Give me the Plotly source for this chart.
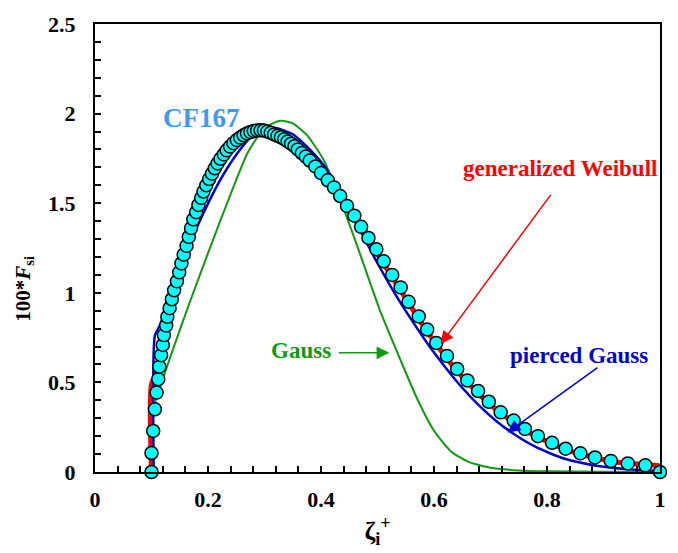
import plotly.graph_objects as go

# ---- data ----
cf_x = [0.100, 0.100, 0.103, 0.106, 0.109, 0.112, 0.114, 0.117, 0.120, 0.122, 0.126, 0.128, 0.132,
        0.136, 0.140, 0.145, 0.149, 0.153, 0.157, 0.162, 0.166, 0.170, 0.174, 0.179, 0.183, 0.188,
        0.192, 0.197, 0.202, 0.207, 0.212, 0.217, 0.222, 0.228, 0.233, 0.239, 0.245, 0.251, 0.257,
        0.263, 0.269, 0.275, 0.281, 0.287, 0.293, 0.299, 0.305, 0.311, 0.317, 0.323, 0.329, 0.335,
        0.341, 0.347, 0.353, 0.359, 0.366, 0.373, 0.380, 0.390, 0.400, 0.412, 0.423, 0.434, 0.446,
        0.459, 0.471, 0.484, 0.498, 0.511, 0.526, 0.541, 0.555, 0.573, 0.588, 0.604, 0.623, 0.641,
        0.659, 0.678, 0.697, 0.718, 0.741, 0.761, 0.784, 0.809, 0.833, 0.859, 0.885, 0.913, 0.943,
        0.974, 1.000]
cf_y = [0.000, 0.106, 0.229, 0.350, 0.443, 0.518, 0.588, 0.652, 0.709, 0.764, 0.817, 0.866, 0.914,
        0.964, 1.014, 1.064, 1.114, 1.164, 1.213, 1.262, 1.312, 1.361, 1.410, 1.450, 1.490, 1.530,
        1.565, 1.600, 1.635, 1.665, 1.695, 1.722, 1.748, 1.772, 1.795, 1.816, 1.835, 1.852, 1.866,
        1.879, 1.889, 1.897, 1.903, 1.906, 1.907, 1.905, 1.900, 1.893, 1.884, 1.876, 1.868, 1.857,
        1.845, 1.832, 1.818, 1.800, 1.780, 1.760, 1.738, 1.705, 1.668, 1.628, 1.588, 1.540, 1.485,
        1.430, 1.368, 1.306, 1.243, 1.176, 1.100, 1.030, 0.950, 0.868, 0.795, 0.720, 0.648, 0.575,
        0.511, 0.452, 0.392, 0.333, 0.287, 0.240, 0.200, 0.163, 0.130, 0.104, 0.081, 0.062, 0.048,
        0.037, 0.000]

weibull_x = [0.100, 0.100, 0.114, 0.122, 0.132, 0.153, 0.174, 0.197, 0.222, 0.251, 0.281, 0.311,
             0.341, 0.380, 0.423, 0.471, 0.526, 0.588, 0.641, 0.697, 0.761, 0.833, 0.913, 1.000]
weibull_y = [0.000, 0.490, 0.588, 0.764, 0.914, 1.164, 1.405, 1.595, 1.745, 1.850, 1.902, 1.892,
             1.843, 1.734, 1.580, 1.358, 1.088, 0.783, 0.563, 0.383, 0.233, 0.125, 0.060, 0.035]

gauss_x = [0.102, 0.133, 0.168, 0.207, 0.240, 0.270, 0.300, 0.328, 0.350, 0.375, 0.405, 0.434,
           0.464, 0.505, 0.540, 0.570, 0.600, 0.630, 0.660, 0.700, 0.750, 0.800, 0.900, 1.000]
gauss_y = [0.350, 0.640, 0.950, 1.280, 1.550, 1.780, 1.920, 1.960, 1.945, 1.880, 1.740, 1.520,
           1.262, 0.896, 0.630, 0.410, 0.230, 0.115, 0.058, 0.024, 0.009, 0.004, 0.001, 0.000]

pierced_x = [0.104, 0.106, 0.115, 0.130, 0.150, 0.170, 0.192, 0.220, 0.250, 0.280, 0.315, 0.350,
             0.380, 0.410, 0.440, 0.470, 0.500, 0.530, 0.560, 0.590, 0.620, 0.650, 0.680, 0.710,
             0.740, 0.780, 0.830, 0.890, 0.950, 1.000]
pierced_y = [0.000, 0.760, 0.820, 0.950, 1.130, 1.290, 1.445, 1.620, 1.770, 1.880, 1.922, 1.885,
             1.800, 1.690, 1.525, 1.345, 1.165, 1.000, 0.850, 0.710, 0.585, 0.470, 0.370, 0.285,
             0.215, 0.140, 0.075, 0.034, 0.014, 0.005]

x_ticks = [0, 0.2, 0.4, 0.6, 0.8, 1]
x_ticklabels = ["0", "0.2", "0.4", "0.6", "0.8", "1"]
y_ticks = [0, 0.5, 1, 1.5, 2, 2.5]
y_ticklabels = ["0", "0.5", "1", "1.5", "2", "2.5"]

FONT = "Liberation Serif"
RED = "#FF0000"
BLUE = "#0000CC"
GREEN = "#119911"
CF = "#3D9BF5"

fig = go.Figure()
fig.add_trace(go.Scatter(x=weibull_x, y=weibull_y, mode="lines",
                         line=dict(color=RED, width=5, shape="spline", smoothing=0.6),
                         showlegend=False))
fig.add_trace(go.Scatter(x=gauss_x, y=gauss_y, mode="lines",
                         line=dict(color=GREEN, width=2, shape="spline", smoothing=0.6),
                         showlegend=False))
fig.add_trace(go.Scatter(x=pierced_x, y=pierced_y, mode="lines",
                         line=dict(color=BLUE, width=2.5, shape="spline", smoothing=0.6),
                         showlegend=False))
fig.add_trace(go.Scatter(x=cf_x, y=cf_y, mode="markers",
                         marker=dict(color="#00FFFF", size=13, line=dict(color="black", width=1.5)),
                         cliponaxis=False, showlegend=False))

axis_common = dict(showline=True, linecolor="black", linewidth=2, mirror=True,
                   ticks="inside", ticklen=6, tickwidth=1.5, tickcolor="black",
                   showgrid=False, zeroline=False,
                   tickfont=dict(family=FONT, size=22, color="black"))

fig.update_xaxes(range=[0, 1], tickvals=x_ticks,
                 ticktext=[f"<b>{t}</b>" for t in x_ticklabels],
                 minor=dict(ticks="inside", ticklen=6, tickwidth=1.5, tickcolor="black", dtick=0.04),
                 ticklabelstandoff=7,
                 title=dict(text="<b>ζ<sub>i</sub><sup>+</sup></b>",
                            font=dict(family=FONT, size=26, color="black"), standoff=10),
                 **axis_common)
fig.update_yaxes(range=[0, 2.5], tickvals=y_ticks,
                 ticktext=[f"<b>{t}</b>" for t in y_ticklabels],
                 minor=dict(ticks="inside", ticklen=6, tickwidth=1.5, tickcolor="black", dtick=0.1),
                 ticklabelstandoff=13,
                 **axis_common)

# y-axis title as a rotated annotation (placed lower than the plot centre, as in the reference)
fig.add_annotation(xref="paper", yref="paper", x=-0.125, y=0.41, xanchor="center", yanchor="middle",
                   text="<b>100*<i>F</i><sub>si</sub></b>", textangle=-90, showarrow=False,
                   font=dict(family=FONT, size=21, color="black"))

annots = [
    dict(x=0.189, y=1.978, text="<b>CF167</b>", font=dict(family=FONT, size=27, color=CF)),
    dict(x=0.823, y=1.692, text="<b>generalized Weibull</b>", font=dict(family=FONT, size=23, color=RED)),
    dict(x=0.856, y=0.648, text="<b>pierced Gauss</b>", font=dict(family=FONT, size=23, color=BLUE)),
    dict(x=0.364, y=0.676, text="<b>Gauss</b>", font=dict(family=FONT, size=23, color=GREEN)),
]
for a in annots:
    fig.add_annotation(xref="x", yref="y", showarrow=False, **a)

arrows = [
    (0.8085, 1.555, 0.612, 0.714, RED),
    (0.892, 0.588, 0.730, 0.220, BLUE),
    (0.429, 0.665, 0.521, 0.665, GREEN),
]
for tx, ty, hx, hy, c in arrows:
    fig.add_annotation(x=hx, y=hy, ax=tx, ay=ty, xref="x", yref="y", axref="x", ayref="y",
                       text="", showarrow=True, arrowhead=2, arrowsize=1.7, arrowwidth=1.5,
                       arrowcolor=c)

fig.update_layout(width=678, height=553, margin=dict(l=95, r=18, t=18, b=80),
                  plot_bgcolor="white", paper_bgcolor="white",
                  font=dict(family=FONT, color="black"))

fig.write_html("out.html")
